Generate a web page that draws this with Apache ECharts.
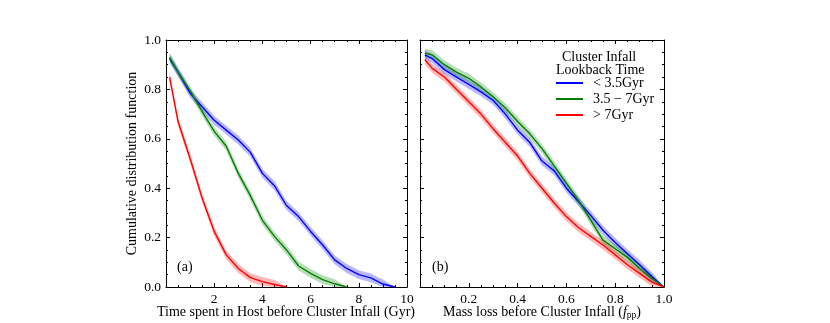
<!DOCTYPE html>
<html>
<head>
<meta charset="utf-8">
<script src="https://cdn.jsdelivr.net/npm/echarts@6/dist/echarts.min.js"></script>
<style>
	html, body { margin: 0; padding: 0; background: #fff; }
	#chart { width: 830px; height: 323px; }
</style>
</head>
<body>
<div id="chart"></div>
<script>
	// (a) time spent in host before cluster infall (Gyr)
	var timeX = [0.15, 0.5, 1.0, 1.5, 2.0, 2.5, 3.0, 3.5, 4.0, 4.5, 5.0, 5.5, 6.0, 6.5, 7.0, 7.5, 8.0, 8.5, 9.0, 9.5, 10.0];
	var timeBlue = [0.925, 0.87, 0.785, 0.73, 0.675, 0.635, 0.595, 0.545, 0.46, 0.41, 0.33, 0.285, 0.225, 0.17, 0.11, 0.075, 0.05, 0.037, 0.012, 0.0, 0.0];
	var timeGreen = [0.93, 0.87, 0.795, 0.71, 0.63, 0.57, 0.46, 0.37, 0.27, 0.205, 0.15, 0.085, 0.055, 0.03, 0.013, 0.0, 0.0, 0.0, 0.0, 0.0, 0.0];
	var timeRed = [0.85, 0.67, 0.52, 0.36, 0.225, 0.13, 0.075, 0.038, 0.022, 0.01, 0.0, 0.0, 0.0, 0.0, 0.0, 0.0, 0.0, 0.0, 0.0, 0.0, 0.0];

	// (b) mass loss before cluster infall (f_pp)
	var massX = [0.02, 0.05, 0.1, 0.15, 0.2, 0.25, 0.3, 0.35, 0.4, 0.45, 0.5, 0.55, 0.6, 0.65, 0.7, 0.75, 0.8, 0.85, 0.9, 0.95, 1.0];
	var massBlue = [0.94, 0.925, 0.88, 0.85, 0.82, 0.79, 0.755, 0.70, 0.635, 0.585, 0.51, 0.47, 0.40, 0.345, 0.29, 0.23, 0.18, 0.135, 0.09, 0.042, 0.0];
	var massGreen = [0.947, 0.94, 0.90, 0.87, 0.845, 0.81, 0.77, 0.725, 0.67, 0.62, 0.56, 0.49, 0.42, 0.35, 0.27, 0.19, 0.155, 0.12, 0.075, 0.035, 0.0];
	var massRed = [0.92, 0.885, 0.85, 0.80, 0.75, 0.70, 0.64, 0.585, 0.53, 0.46, 0.40, 0.34, 0.285, 0.24, 0.205, 0.17, 0.13, 0.09, 0.055, 0.02, 0.0];

	var groupNames = ['< 3.5Gyr', '3.5 \u2212 7Gyr', '> 7Gyr'];
	var bandHalf = 0.018;

	var lineColors = ['#0000ff', '#008000', '#ff0000'];
	var bandColors = ['rgba(0,0,255,0.28)', 'rgba(0,128,0,0.28)', 'rgba(255,0,0,0.28)'];
	var font = 'Liberation Serif, DejaVu Serif, serif';

	// points up to (and including) the first zero of the CDF
	function pairs(xs, ys) {
		var out = [];
		for (var i = 0; i < xs.length; i++) {
			out.push([xs[i], ys[i]]);
			if (ys[i] === 0) break;
		}
		return out;
	}

	// shaded band drawn as one polygon between y-bandHalf and y+bandHalf
	function bandSeries(xs, ys, idx, axis) {
		var data = pairs(xs, ys).map(function(p, i, arr) {
			var h = (i === arr.length - 1 && p[1] === 0) ? 0 : bandHalf;
			return [p[0], Math.max(0, p[1] - h), Math.min(1, p[1] + h)];
		});
		return {
			type: 'custom',
			xAxisIndex: axis, yAxisIndex: axis,
			silent: true,
			z: 1,
			data: data,
			encode: { x: 0, y: [1, 2] },
			renderItem: function(params, api) {
				if (params.dataIndex !== 0) return null;
				var top = data.map(function(d) { return api.coord([d[0], d[2]]); });
				var bot = data.map(function(d) { return api.coord([d[0], d[1]]); }).reverse();
				return {
					type: 'polygon',
					shape: { points: top.concat(bot) },
					style: { fill: bandColors[idx], stroke: null }
				};
			}
		};
	}

	function mainSeries(xs, ys, idx, axis) {
		return {
			name: groupNames[idx],
			type: 'line',
			xAxisIndex: axis, yAxisIndex: axis,
			data: pairs(xs, ys),
			showSymbol: false,
			z: 5,
			color: lineColors[idx],
			lineStyle: { width: 1.4, color: lineColors[idx] }
		};
	}

	function xAx(grid, pos, max, interval, labels) {
		return {
			type: 'value', gridIndex: grid, position: pos,
			min: 0, max: max, interval: interval,
			axisLine: { show: true, onZero: false, lineStyle: { color: '#000', width: 1 } },
			axisTick: { show: true, inside: true, length: 4, lineStyle: { color: '#000' } },
			minorTick: { show: true, splitNumber: 4, length: 2, lineStyle: { color: '#000' } },
			splitLine: { show: false },
			axisLabel: {
				show: labels, margin: 5, color: '#000', fontFamily: font, fontSize: 13.5,
				formatter: function(v) {
					if (v === 0) return '';
					return max === 1 ? v.toFixed(1) : String(v);
				}
			}
		};
	}

	function yAx(grid, pos, labels) {
		return {
			type: 'value', gridIndex: grid, position: pos,
			min: 0, max: 1, interval: 0.2,
			axisLine: { show: true, onZero: false, lineStyle: { color: '#000', width: 1 } },
			axisTick: { show: true, inside: true, length: 4, lineStyle: { color: '#000' } },
			minorTick: { show: true, splitNumber: 4, length: 2, lineStyle: { color: '#000' } },
			splitLine: { show: false },
			axisLabel: {
				show: labels, margin: 5, color: '#000', fontFamily: font, fontSize: 13.5,
				formatter: function(v) { return v.toFixed(1); }
			}
		};
	}

	var xAxes = [xAx(0, 'bottom', 10, 2, true), xAx(0, 'top', 10, 2, false),
		xAx(1, 'bottom', 1, 0.2, true), xAx(1, 'top', 1, 0.2, false)];

	var yAxes = [yAx(0, 'left', true), yAx(0, 'right', false), yAx(1, 'left', false), yAx(1, 'right', false)];
	yAxes[0].name = 'Cumulative distribution function';
	yAxes[0].nameLocation = 'middle';
	yAxes[0].nameGap = 27;
	yAxes[0].nameTextStyle = { color: '#000', fontFamily: font, fontSize: 14 };

	var series = [];
	[timeBlue, timeGreen, timeRed].forEach(function(ys, i) {
		series.push(bandSeries(timeX, ys, i, 0));
	});
	[massBlue, massGreen, massRed].forEach(function(ys, i) {
		series.push(bandSeries(massX, ys, i, 2));
	});
	[timeBlue, timeGreen, timeRed].forEach(function(ys, i) {
		series.push(mainSeries(timeX, ys, i, 0));
	});
	[massBlue, massGreen, massRed].forEach(function(ys, i) {
		series.push(mainSeries(massX, ys, i, 2));
	});

	var myChart = echarts.init(document.getElementById('chart'));
	var option = {
		animation: false,
		backgroundColor: '#fff',
		grid: [
			{ left: 166, top: 40, width: 241, height: 247, outerBoundsMode: 'none', containLabel: false },
			{ left: 420, top: 40, width: 244, height: 247, outerBoundsMode: 'none', containLabel: false }
		],
		xAxis: xAxes,
		yAxis: yAxes,
		legend: {
			data: groupNames,
			orient: 'vertical',
			left: 556,
			top: 75,
			padding: 0,
			icon: 'rect',
			itemWidth: 27,
			itemHeight: 2,
			itemGap: 0,
			textStyle: { color: '#000', fontFamily: font, fontSize: 14, lineHeight: 16, padding: [0, 0, 0, 5] }
		},
		graphic: [
			{ type: 'text', left: 562, top: 50, style: { text: 'Cluster Infall', font: '14px ' + font, fill: '#000' } },
			{ type: 'text', left: 556, top: 63, style: { text: 'Lookback Time', font: '14px ' + font, fill: '#000' } },
			{ type: 'text', left: 177, top: 260, style: { text: '(a)', font: '14px ' + font, fill: '#000' } },
			{ type: 'text', left: 432, top: 260, style: { text: '(b)', font: '14px ' + font, fill: '#000' } },
			{
				type: 'text',
				style: {
					x: 286, y: 312, align: 'center', verticalAlign: 'middle',
					text: 'Time spent in Host before Cluster Infall (Gyr)', font: '14px ' + font, fill: '#000'
				}
			},
			{
				type: 'text',
				style: {
					x: 542, y: 312, align: 'center', verticalAlign: 'middle',
					text: 'Mass loss before Cluster Infall ({i|f}{s|pp})', font: '14px ' + font, fill: '#000',
					rich: {
						i: { font: 'italic 14px ' + font, fill: '#000' },
						s: { font: '9.5px ' + font, fill: '#000', padding: [7, 0, 0, 0] }
					}
				}
			}
		],
		series: series
	};
	myChart.setOption(option);
</script>
</body>
</html>
